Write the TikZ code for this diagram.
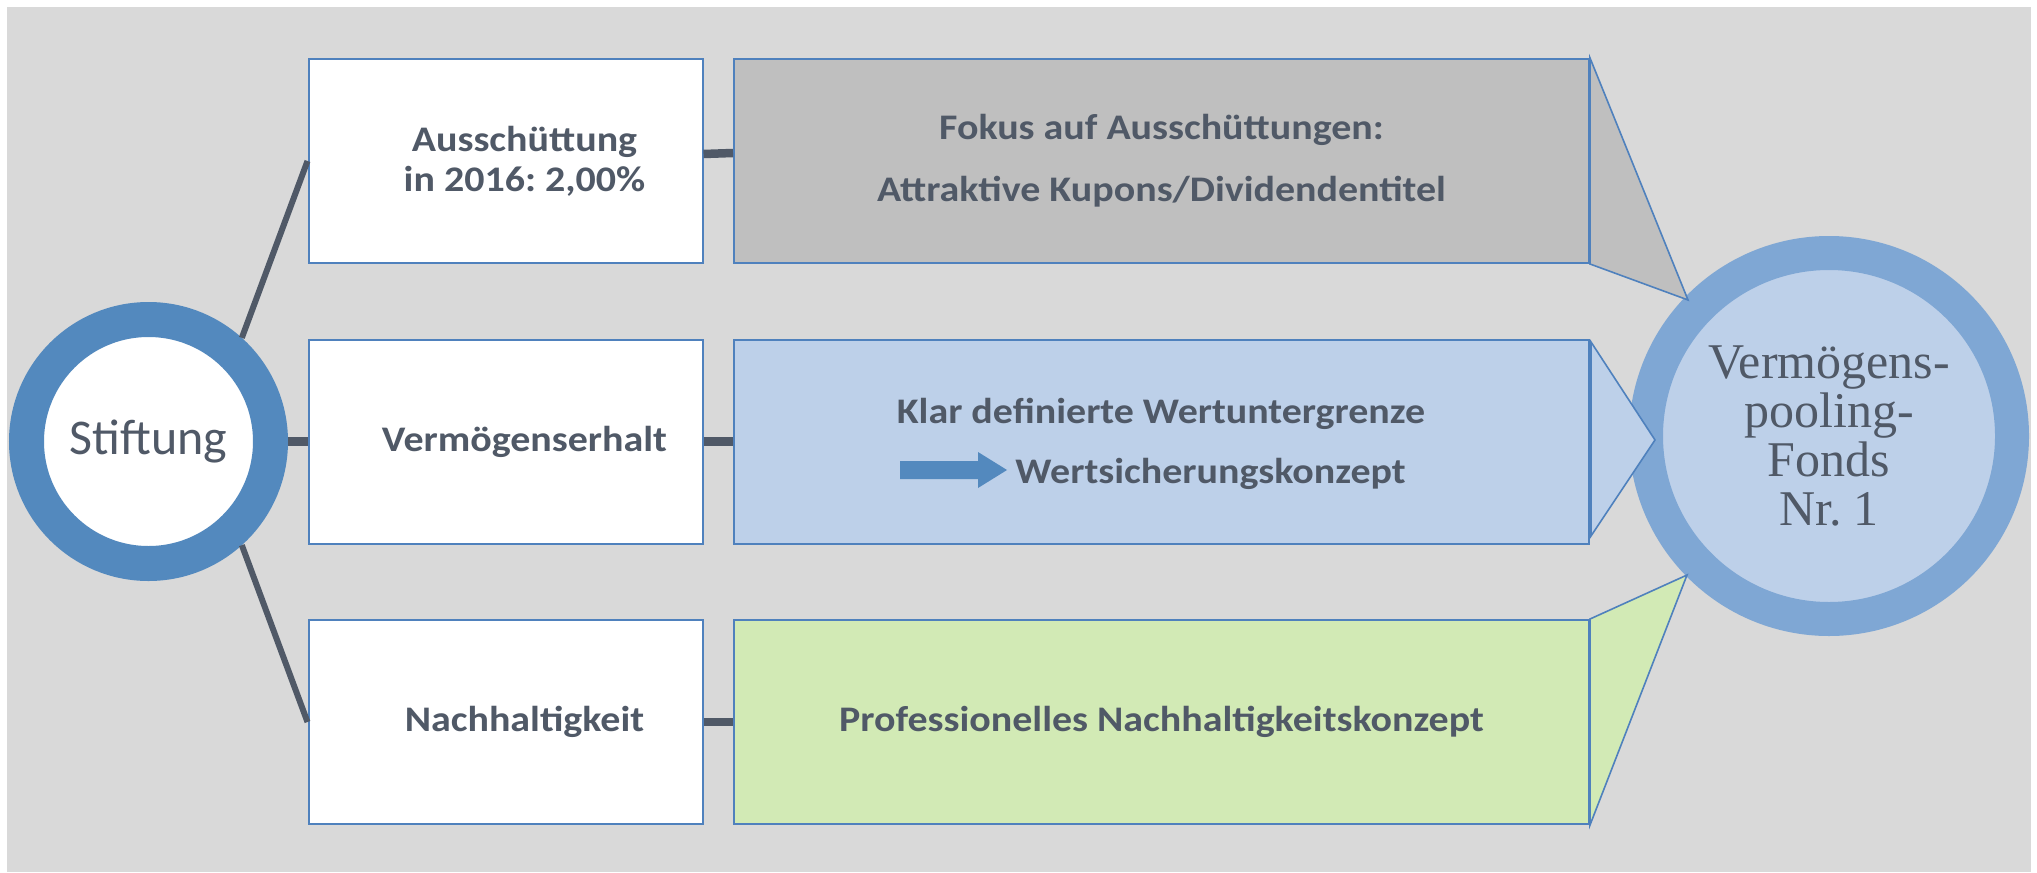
\documentclass[tikz,border=0pt]{standalone}
\usepackage{fontspec}
\setmainfont{Carlito}
\newfontfamily\boxfont[FakeStretch=1.11]{Carlito}
\newfontfamily\fondsfont{Liberation Serif}
\usepackage{tikz}
\definecolor{bggray}{RGB}{217,217,217}
\definecolor{boxline}{RGB}{79,129,189}
\definecolor{txtgray}{RGB}{80,89,103}
\definecolor{fokusgray}{RGB}{191,191,191}
\definecolor{wertblue}{RGB}{189,208,233}
\definecolor{profgreen}{RGB}{210,234,181}
\definecolor{stiftring}{RGB}{83,137,190}
\definecolor{fondsring}{RGB}{127,167,212}
\newcommand{\indbox}{\hspace*{19pt}}
\frenchspacing
\tikzset{
  leftbox/.style={draw=boxline, line width=1pt, fill=white, minimum width=197pt,
    minimum height=102pt, inner sep=0pt, align=center, text=txtgray,
    font=\boxfont\bfseries\fontsize{18pt}{20pt}\selectfont},
  rightbox/.style={leftbox, minimum width=427.5pt},
  boxtext/.style={inner sep=0pt, text=txtgray, font=\boxfont\bfseries\fontsize{18pt}{20pt}\selectfont},
  link/.style={draw=txtgray, line width=4.25pt},
  spoke/.style={draw=txtgray, line width=3pt},
  wedge/.style={draw=boxline, line width=0.8pt},
}

\begin{document}
\begin{tikzpicture}[x=0.5pt,y=-0.5pt]
\useasboundingbox (0,0) rectangle (2037,872);
\fill[bggray] (7,7) rectangle (2031,872);

% Fonds
\node[circle, draw=fondsring, line width=17pt, fill=wertblue, minimum size=183pt,
  inner sep=0pt, align=center, text=txtgray,
  font=\fondsfont\fontsize{25pt}{24.5pt}\selectfont] (fonds) at (1829,436)
  {Vermögens-\\pooling-\\Fonds\\Nr.\ 1};

% Stiftung
\node[circle, draw=stiftring, line width=17.5pt, fill=white, minimum size=122pt,
  inner sep=0pt, text=txtgray, font=\fontsize{25pt}{30pt}\selectfont] (stift)
  at (148.5,441.5) {Stiftung};

% linke Spalte
\node[leftbox] (aus) at (505.5,161) {\indbox Ausschüttung\\\indbox in 2016: 2,00\%};
\node[leftbox] (erhalt) at (505.5,441.5) {\indbox Vermögenserhalt};
\node[leftbox] (nach) at (505.5,722) {\indbox Nachhaltigkeit};

% rechte Spalte
\node[rightbox, fill=fokusgray] (fokus) at (1161.5,161)
  {Fokus auf Ausschüttungen:\\[11pt]Attraktive Kupons/Dividendentitel};
\node[rightbox, fill=wertblue] (wert) at (1161.5,441.5) {};
\node[rightbox, fill=profgreen] (prof) at (1161.5,722)
  {Professionelles Nachhaltigkeitskonzept};

\node[boxtext] (klar) at (1161,414) {Klar definierte Wertuntergrenze};
\node[boxtext, anchor=west] (sicher) at (1015,474) {Wertsicherungskonzept};
\fill[stiftring] (900,461) -- (978,461) -- (978,452) -- (1007,470)
  -- (978,488) -- (978,479) -- (900,479) -- cycle;

% Spitzen zum Fonds
\filldraw[wedge, fill=fokusgray] (fokus.north east) -- (1688,300) -- (fokus.south east) -- cycle;
\filldraw[wedge, fill=wertblue] (1591,342) -- (1655,440) -- (1591,536) -- cycle;
\filldraw[wedge, fill=profgreen] (prof.north east) -- (1687,575) -- (prof.south east) -- cycle;

% Verbindungen
\draw[spoke] (stift.48) -- (aus.west);
\draw[spoke] (stift.-48) -- (nach.west);
\draw[link] (stift) -- (erhalt);
\draw[link] ([yshift=3.5pt]aus.east) -- ([yshift=4pt]fokus.west);
\draw[link] (erhalt) -- (wert);
\draw[link] (nach) -- (prof);
\end{tikzpicture}
\end{document}
